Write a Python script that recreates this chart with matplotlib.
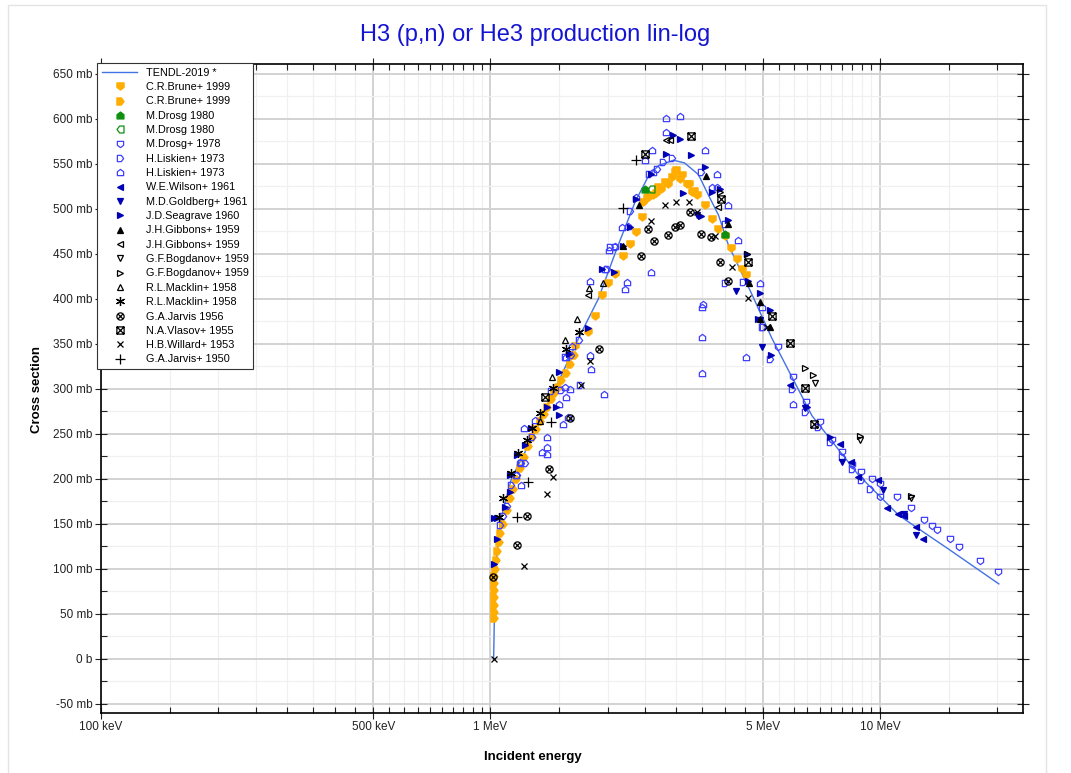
import numpy as np
import matplotlib
matplotlib.use("Agg")
import matplotlib.pyplot as plt
from matplotlib.path import Path
from matplotlib.transforms import Affine2D
from matplotlib.patches import Rectangle
from matplotlib.ticker import FixedLocator, NullFormatter

plt.rcParams['font.family'] = ['Liberation Sans', 'DejaVu Sans']

# ---- evaluated curve (MeV, mb) ----
tendl_e = [1.019, 1.028, 1.059, 1.132, 1.303, 1.466, 1.683, 1.893, 2.112, 2.354, 2.55,
           2.70, 2.95, 3.15, 3.42, 3.63, 3.85, 4.08, 4.69, 5.28, 6.69, 8.81, 11.2, 14.97, 20.2]
tendl_s = [0, 97, 152, 200, 252, 300, 356, 400, 456, 508, 537,
           548, 554, 551, 538, 515, 493, 460, 405, 356, 270, 204, 159, 122, 83]

# ---- measurements (MeV, mb) ----
brune_a_e = [1.65, 1.785, 1.857, 1.93, 2.008, 2.09, 2.194, 2.28, 2.37, 2.446, 2.47, 2.52, 2.544,
             2.62, 2.66, 2.70, 2.74, 2.81, 2.86, 2.92, 2.98, 3.00, 3.07, 3.11, 3.19, 3.24, 3.29,
             3.34, 3.39, 3.56, 3.70, 3.85, 3.99, 4.14, 4.29, 4.43, 4.52]
brune_a_s = [347, 363, 381, 404, 417, 428, 448, 461, 474, 491, 507, 512, 513,
             515, 518, 524, 522, 530, 527, 535, 541, 543, 533, 538, 528, 527, 519,
             520, 515, 504, 489, 478, 470, 456, 444, 433, 426]
brune_b_e = [1.020, 1.020, 1.021, 1.021, 1.022, 1.023, 1.024, 1.027, 1.033, 1.04, 1.05, 1.06,
             1.08, 1.10, 1.12, 1.14, 1.16, 1.19, 1.22, 1.25, 1.28, 1.31, 1.34, 1.37, 1.40,
             1.43, 1.46, 1.49, 1.52, 1.56, 1.60, 1.64]
brune_b_s = [45, 52, 60, 68, 76, 84, 92, 100, 110, 120, 130, 140,
             150, 165, 178, 188, 200, 212, 224, 236, 246, 255, 264, 272, 280,
             288, 295, 302, 310, 318, 327, 337]
drosg80a_e = [2.49, 3.99]
drosg80a_s = [522, 472]
drosg80b_e = [2.59]
drosg80b_s = [522]
drosg78_e = [5.48, 5.99, 6.47, 7.0, 7.53, 8.0, 8.46, 8.93, 9.53, 10.0, 10.0, 11.05, 12.0,
             13.0, 13.6, 14.0, 15.1, 16.0, 18.1, 20.1]
drosg78_s = [346, 313, 285, 263, 243, 230, 215, 207, 200, 194, 180, 180, 167,
             154, 147, 143, 133, 124, 108, 96]
liskien_a_e = [2.67, 2.78, 2.92, 2.56, 2.28, 3.48, 3.99, 2.09, 2.03, 1.99, 5.02, 3.99, 4.46,
               4.97, 5.22, 5.94, 6.43, 6.95, 7.45, 8.0, 8.46, 8.93, 9.43, 1.69, 1.55, 1.61,
               1.43, 1.52, 1.28, 1.20, 1.23, 1.17, 1.13, 1.10, 1.075, 1.06, 1.70]
liskien_a_s = [544, 552, 556, 539, 498, 541, 483, 457, 457, 433, 369, 417, 419,
               369, 333, 300, 274, 257, 241, 224, 211, 198, 189, 354, 335, 337,
               297, 299, 246, 217, 217, 204, 193, 170, 159, 148, 304]
liskien_b_e = [2.83, 3.07, 2.83, 3.56, 2.60, 2.49, 2.62, 2.37, 3.81, 3.70, 3.81, 4.08, 2.26,
               2.17, 2.09, 2.01, 2.59, 2.24, 2.22, 1.80, 1.97, 3.52, 3.50, 3.50, 3.50, 4.33,
               4.93, 4.97, 4.52, 5.99, 1.80, 1.81, 1.96, 1.60, 1.55, 1.56, 1.50, 1.58, 1.54,
               1.40, 1.40, 1.36, 1.40, 1.22, 1.30, 1.19, 1.16, 1.20, 1.56, 1.62]
liskien_b_s = [601, 603, 585, 565, 565, 554, 541, 513, 539, 524, 524, 504, 481,
               480, 459, 454, 430, 419, 411, 420, 433, 394, 391, 357, 317, 465,
               417, 391, 335, 283, 337, 322, 294, 300, 302, 291, 283, 269, 261,
               246, 235, 230, 227, 256, 265, 219, 204, 193, 335, 348]
wilson_e = [5.88, 7.90, 8.41, 8.81, 9.90, 10.4, 11.1, 11.5, 12.4, 12.9]
wilson_s = [304, 238, 219, 202, 199, 167, 161, 159, 146, 133]
goldberg_e = [3.39, 4.28, 4.93, 4.97, 6.44, 8.0, 10.2, 11.5, 12.4]
goldberg_s = [493, 409, 376, 346, 278, 219, 187, 161, 137]
seagrave_e = [2.95, 3.07, 2.83, 3.28, 3.56, 2.59, 3.13, 3.70, 3.89, 3.48, 4.08, 2.28, 2.19,
              1.93, 2.07, 4.55, 4.93, 4.59, 2.37, 1.78, 1.59, 1.50, 1.47, 1.50, 1.40, 1.27,
              1.23, 1.17, 1.12, 1.12, 1.09, 1.04, 1.024, 1.04, 1.02, 4.87, 5.22, 5.25, 6.48, 7.45]
seagrave_s = [582, 578, 561, 560, 546, 539, 517, 519, 522, 492, 487, 480, 459,
              433, 430, 450, 406, 420, 511, 367, 339, 319, 280, 271, 280, 256,
              237, 226, 204, 185, 169, 156, 156, 133, 105, 378, 387, 337, 280, 246]
gibbons_a_e = [2.19, 2.40, 3.57, 4.08, 4.62, 4.92, 4.93, 5.22]
gibbons_a_s = [459, 504, 536, 483, 417, 378, 396, 369]
gibbons_b_e = [1.78, 2.83, 2.89, 3.85]
gibbons_b_s = [404, 576, 576, 502]
bogdanov_a_e = [6.8, 8.9, 12.0]
bogdanov_a_s = [306, 243, 178]
bogdanov_b_e = [3.89, 4.57, 6.41, 6.74, 8.9, 12.0]
bogdanov_b_s = [519, 450, 323, 315, 247, 181]
macklin_a_e = [1.34, 1.44, 1.55, 1.67, 1.79, 1.95]
macklin_a_s = [264, 313, 354, 378, 412, 417]
macklin_b_e = [1.05, 1.08, 1.13, 1.18, 1.24, 1.28, 1.34, 1.45, 1.56, 1.69]
macklin_b_s = [157, 179, 206, 228, 243, 256, 273, 301, 344, 363]
jarvis56_e = [1.018, 1.17, 1.24, 1.41, 1.60, 1.90, 2.44, 2.54, 2.63, 2.86, 2.98, 3.07, 3.26,
              3.47, 3.68, 3.89, 4.08]
jarvis56_s = [91, 126, 159, 211, 267, 344, 448, 478, 464, 471, 480, 482, 496,
              472, 469, 441, 420]
vlasov_e = [1.38, 2.49, 3.28, 3.90, 4.59, 5.28, 5.88, 6.41, 6.79]
vlasov_s = [291, 561, 581, 511, 441, 381, 351, 301, 261]
willard_e = [1.019, 1.22, 1.40, 1.45, 1.71, 1.80, 2.58, 2.81, 2.99, 3.24, 3.39, 3.77, 4.18,
             4.59, 5.12]
willard_s = [0, 103, 183, 202, 304, 331, 486, 504, 507, 507, 496, 470, 435,
             401, 369]
jarvis50_e = [1.17, 1.25, 1.43, 2.19, 2.36]
jarvis50_s = [157, 196, 263, 501, 554]

# ---- marker shapes ----
shield_down = Path([(-1, 1), (1, 1), (1, -0.25), (0, -1), (-1, -0.25), (-1, 1)], closed=True)
shield_up = Affine2D().rotate_deg(180).transform_path(shield_down)
shield_right = Affine2D().rotate_deg(90).transform_path(shield_down)
shield_left = Affine2D().rotate_deg(-90).transform_path(shield_down)
diag = Path([(-0.7, -0.7), (0.7, 0.7), (-0.7, 0.7), (0.7, -0.7)],
            [Path.MOVETO, Path.LINETO, Path.MOVETO, Path.LINETO])
circ_x = Path.make_compound_path(Path.unit_circle(), diag)
sq = Path([(-1, -1), (1, -1), (1, 1), (-1, 1), (-1, -1)], closed=True)
diag2 = Path([(-1, -1), (1, 1), (-1, 1), (1, -1)],
             [Path.MOVETO, Path.LINETO, Path.MOVETO, Path.LINETO])
box_x = Path.make_compound_path(sq, diag2)

orange = '#ffad00'
green = '#0f8f0f'
navy = '#0000b4'
lblue = '#4040ff'

series = [
    (brune_a_e, brune_a_s, 'C.R.Brune+ 1999', shield_down, orange, True, 5.2),
    (brune_b_e, brune_b_s, 'C.R.Brune+ 1999', shield_right, orange, True, 5.2),
    (drosg80a_e, drosg80a_s, 'M.Drosg 1980', shield_up, green, True, 5),
    (drosg80b_e, drosg80b_s, 'M.Drosg 1980', shield_left, green, False, 5),
    (drosg78_e, drosg78_s, 'M.Drosg+ 1978', shield_down, lblue, False, 4.5),
    (liskien_a_e, liskien_a_s, 'H.Liskien+ 1973', shield_right, lblue, False, 4.5),
    (liskien_b_e, liskien_b_s, 'H.Liskien+ 1973', shield_up, lblue, False, 4.5),
    (wilson_e, wilson_s, 'W.E.Wilson+ 1961', '<', navy, True, 4.5),
    (goldberg_e, goldberg_s, 'M.D.Goldberg+ 1961', 'v', navy, True, 4.5),
    (seagrave_e, seagrave_s, 'J.D.Seagrave 1960', '>', navy, True, 4.5),
    (gibbons_a_e, gibbons_a_s, 'J.H.Gibbons+ 1959', '^', 'black', True, 4.5),
    (gibbons_b_e, gibbons_b_s, 'J.H.Gibbons+ 1959', '<', 'black', False, 4.5),
    (bogdanov_a_e, bogdanov_a_s, 'G.F.Bogdanov+ 1959', 'v', 'black', False, 4.5),
    (bogdanov_b_e, bogdanov_b_s, 'G.F.Bogdanov+ 1959', '>', 'black', False, 4.5),
    (macklin_a_e, macklin_a_s, 'R.L.Macklin+ 1958', '^', 'black', False, 4.5),
    (macklin_b_e, macklin_b_s, 'R.L.Macklin+ 1958', (6, 2, 0), 'black', False, 6.5),
    (jarvis56_e, jarvis56_s, 'G.A.Jarvis 1956', circ_x, 'black', False, 5.2),
    (vlasov_e, vlasov_s, 'N.A.Vlasov+ 1955', box_x, 'black', False, 5.2),
    (willard_e, willard_s, 'H.B.Willard+ 1953', 'x', 'black', False, 4.2),
    (jarvis50_e, jarvis50_s, 'G.A.Jarvis+ 1950', '+', 'black', False, 6.5),
]

fig = plt.figure(figsize=(10.71, 7.73), dpi=100)
fig.add_artist(Rectangle((8 / 1071, -0.01), 1038 / 1071, 1 - 5 / 773 + 0.01,
                         transform=fig.transFigure, fill=False,
                         edgecolor='#e4e4e4', linewidth=1))
ax = fig.add_axes([101 / 1071, 1 - 713 / 773, 922 / 1071, 649.5 / 773])

ax.plot(tendl_e, tendl_s, color='#4272e4', lw=1.0, label='TENDL-2019 *', zorder=3)
for e, s, lab, mk, col, filled, ms in series:
    ax.plot(e, s, linestyle='none', marker=mk, markersize=ms,
            markerfacecolor=col if filled else 'none', markeredgecolor=col,
            markeredgewidth=0.9, label=lab, zorder=4)

ax.set_xscale('log')
ax.set_xlim(0.1, 23.3)
ax.set_ylim(-60.5, 661.5)

xmaj = [0.1, 0.5, 1, 5, 10]
ax.xaxis.set_major_locator(FixedLocator(xmaj))
ax.set_xticklabels(['100 keV', '500 keV', '1 MeV', '5 MeV', '10 MeV'])
xmin = np.concatenate([np.arange(0.15, 1.0, 0.05), np.arange(1.5, 10, 0.5), [15, 20]])
xmin = [v for v in xmin if not any(abs(v - m) < 1e-6 for m in xmaj)]
ax.xaxis.set_minor_locator(FixedLocator(xmin))
ax.xaxis.set_minor_formatter(NullFormatter())

ymaj = np.arange(-50, 651, 50)
ax.yaxis.set_major_locator(FixedLocator(ymaj))
ax.set_yticklabels(['0 b' if v == 0 else f'{v} mb' for v in ymaj])
ax.yaxis.set_minor_locator(FixedLocator(np.arange(-25, 651, 50)))

ax.grid(which='major', color='#d2d2d2', lw=1.4, zorder=0)
ax.grid(which='minor', color='#f0f0f0', lw=0.9, zorder=0)
ax.set_axisbelow(True)
ax.tick_params(which='major', direction='inout', length=8, width=0.8, labelsize=8.5,
               top=True, right=True, colors='#222222', pad=2)
ax.tick_params(which='minor', direction='in', length=4, width=0.8, top=True, right=True,
               colors='#222222')
for sp in ax.spines.values():
    sp.set_linewidth(1.2)
    sp.set_color('black')

leg = ax.legend(loc='upper left', bbox_to_anchor=(-0.004, 1.0), borderaxespad=0,
                fontsize=7.8, frameon=True, fancybox=False, framealpha=1,
                edgecolor='#333333', labelspacing=0.4, handlelength=3.3,
                handletextpad=0.75, borderpad=0.4)
leg.get_frame().set_linewidth(0.8)

fig.text(535 / 1071, 1 - 35 / 773, 'H3 (p,n) or He3 production lin-log',
         ha='center', va='center', fontsize=17, color='#1414d2')
fig.text(533 / 1071, 1 - 757 / 773, 'Incident energy', ha='center', va='center',
         fontsize=9.5, fontweight='bold')
fig.text(37 / 1071, 1 - 390 / 773, 'Cross section', ha='center', va='center',
         rotation=90, fontsize=9.5, fontweight='bold')

fig.savefig('out.png', dpi=100)
